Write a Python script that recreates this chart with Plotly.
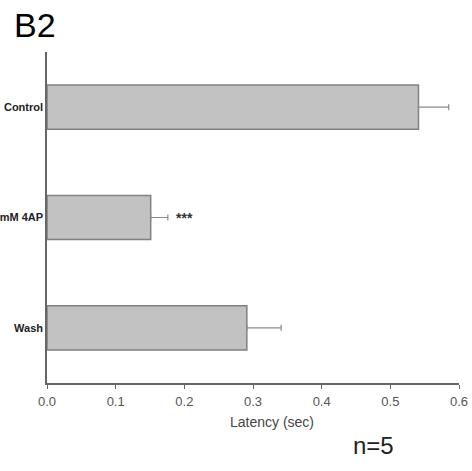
import plotly.graph_objects as go

categories = ["Control", "mM 4AP", "Wash"]
latency = [0.541, 0.151, 0.291]
sem = [0.044, 0.025, 0.050]
tick_vals = [0.0, 0.1, 0.2, 0.3, 0.4, 0.5, 0.6]
tick_text = ["0.0", "0.1", "0.2", "0.3", "0.4", "0.5", "0.6"]

W, H = 472, 471
L, R, T, B = 47, 13, 52, 88
pw, ph = W - L - R, H - T - B


def px(xp):
    return (xp - L) / pw


def py(yp):
    return 1 - (yp - T) / ph


fig = go.Figure()
fig.add_trace(go.Bar(
    x=latency, y=categories, orientation="h",
    width=0.4,
    marker=dict(color="#c2c2c2", line=dict(color="#808080", width=1.5)),
    error_x=dict(type="data", array=sem, arrayminus=[0, 0, 0], symmetric=False,
                 color="#8a8a8a", thickness=1.2, width=3),
))

fig.add_annotation(x=0.2, y="mM 4AP", text="<b>***</b>", showarrow=False,
                   font=dict(family="Arial", size=14, color="#333"), xref="x", yref="y")
fig.add_annotation(x=px(12), y=py(25), xref="paper", yref="paper",
                   text="B2", showarrow=False, xanchor="left", yanchor="middle",
                   font=dict(family="Arial", size=34, color="black"))
fig.add_annotation(x=px(351), y=py(445), xref="paper", yref="paper",
                   text="n=5", showarrow=False, xanchor="left", yanchor="middle",
                   font=dict(family="Arial", size=24, color="#222"))
fig.add_annotation(x=px(272), y=py(422), xref="paper", yref="paper",
                   text="Latency (sec)", showarrow=False, xanchor="center", yanchor="middle",
                   font=dict(family="Arial", size=14, color="#444"))

fig.update_layout(
    width=W, height=H,
    margin=dict(l=L, r=R, t=T, b=B, autoexpand=False),
    paper_bgcolor="white", plot_bgcolor="white",
    showlegend=False,
    xaxis=dict(range=[0, 0.6], tickvals=tick_vals, ticktext=tick_text,
               showgrid=False, zeroline=False, showline=True, linecolor="#666",
               linewidth=1.5, ticks="outside", ticklen=4, tickcolor="#666",
               ticklabelstandoff=2,
               tickfont=dict(family="Arial", size=13, color="#555555"),
               automargin=False),
    yaxis=dict(autorange="reversed", showgrid=False, zeroline=False, showline=True,
               linecolor="#666", linewidth=1.5, ticks="", ticklen=0,
               tickmode="array", tickvals=categories,
               ticktext=["<b>" + c + "</b>" for c in categories],
               tickfont=dict(family="Arial", size=11, color="#222"),
               automargin=False),
)

fig.write_html("out.html", config={"displayModeBar": False},
               post_script="document.body.style.margin='0';")
